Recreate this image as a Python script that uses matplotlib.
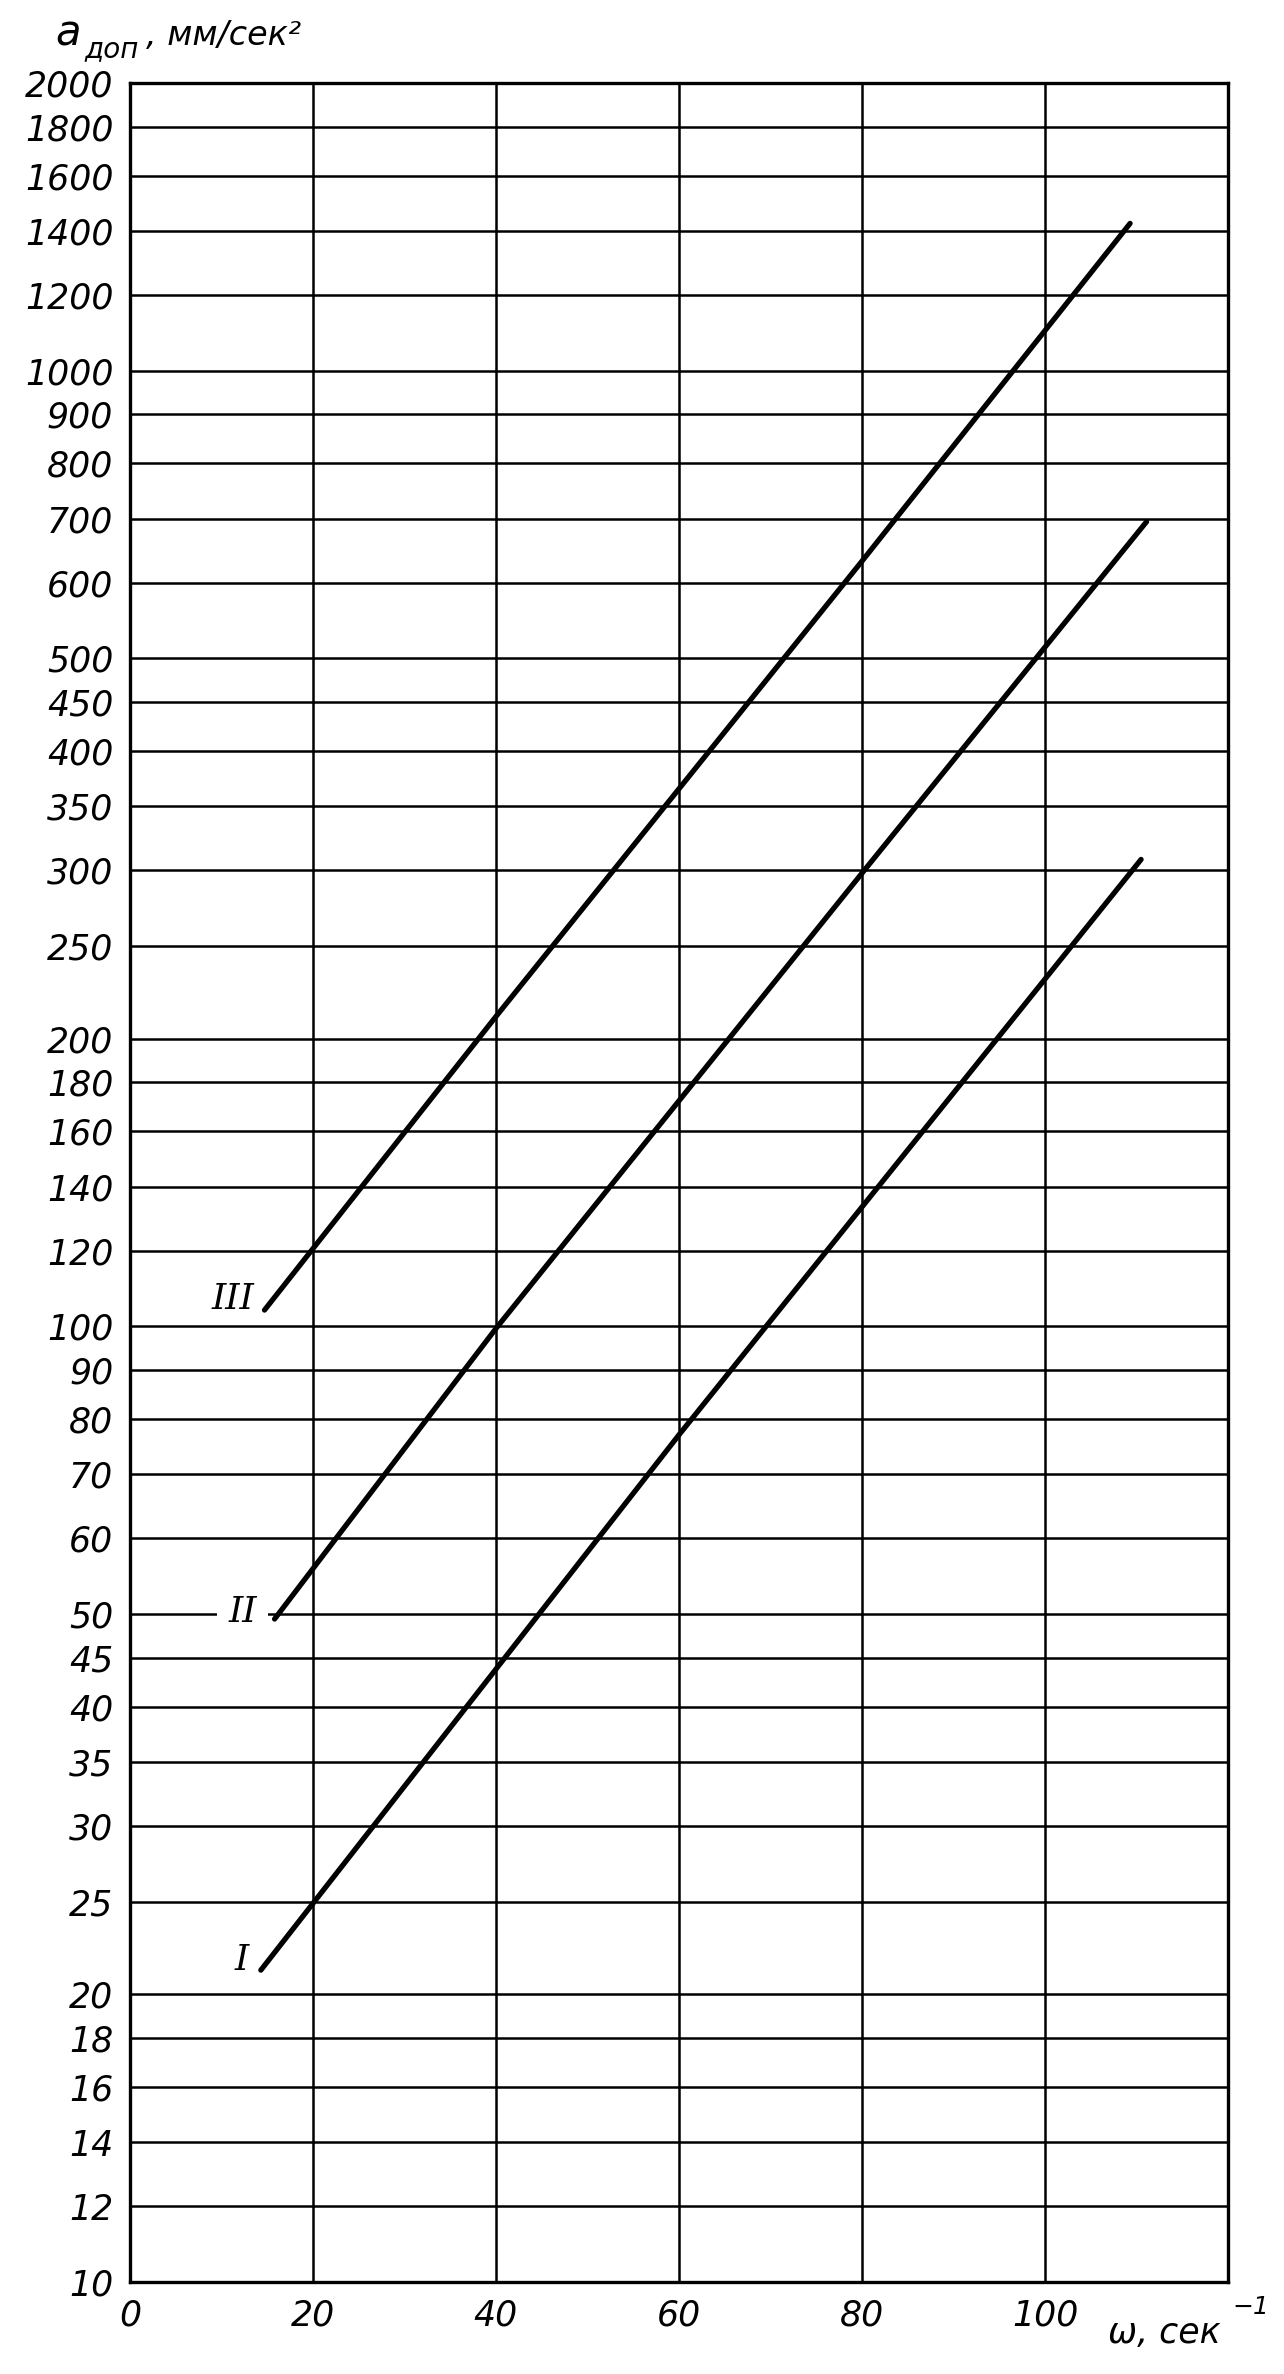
import matplotlib.pyplot as plt
from matplotlib.ticker import NullLocator

# omega, 1/сек  vs  a_доп, мм/сек^2
w_I = [14.3, 60, 110.5]
a_I = [21.2, 77, 308]

w_II = [15.8, 40, 80, 111.1]
a_II = [49.4, 99.5, 298, 695]

w_III = [14.7, 40, 80, 109.3]
a_III = [104, 211, 632, 1426]

curve_names = ["I", "II", "III"]
name_x = [12.2, 12.3, 11.3]
name_y = [21.7, 50.3, 106.7]

y_ticks = [10, 12, 14, 16, 18, 20, 25, 30, 35, 40, 45, 50, 60, 70, 80, 90,
           100, 120, 140, 160, 180, 200, 250, 300, 350, 400, 450, 500, 600,
           700, 800, 900, 1000, 1200, 1400, 1600, 1800, 2000]
x_ticks = [0, 20, 40, 60, 80, 100]

W, H = 1284, 2374
fig = plt.figure(figsize=(W / 100, H / 100), dpi=100)
ax = fig.add_axes([130 / W, 1 - 2282 / H, 1098 / W, 2199 / H])

ax.set_yscale("log")
ax.set_xlim(0, 120)
ax.set_ylim(10, 2000)
ax.set_yticks(y_ticks, labels=[str(v) for v in y_ticks])
ax.set_xticks(x_ticks, labels=[str(v) for v in x_ticks])
ax.yaxis.set_minor_locator(NullLocator())
ax.tick_params(length=0, labelsize=25)
ax.tick_params(axis="y", pad=12)
ax.tick_params(axis="x", pad=12)
for lab in ax.get_xticklabels() + ax.get_yticklabels():
    lab.set_fontstyle("italic")

ax.grid(True, color="black", lw=1.8)
for sp in ax.spines.values():
    sp.set_linewidth(2.4)
    sp.set_color("black")

for w, a in [(w_I, a_I), (w_II, a_II), (w_III, a_III)]:
    ax.plot(w, a, color="black", lw=3.8, solid_capstyle="round")

for name, x, y in zip(curve_names, name_x, name_y):
    # only "II" sits on a grid line, which is broken around it
    box = dict(fc="white", ec="none", pad=8) if name == "II" else None
    ax.text(x, y, name, ha="center", va="center", fontsize=26,
            family="DejaVu Serif", style="italic", zorder=4, bbox=box)

# axis titles
fig.text(55 / W, 1 - 45 / H, "a", fontsize=30, style="italic", va="baseline")
fig.text(84 / W, 1 - 57 / H, "доп", fontsize=20, style="italic", va="baseline")
fig.text(146 / W, 1 - 45 / H, ", мм/сек²", fontsize=24, style="italic",
         va="baseline")
fig.text(1108 / W, 1 - 2343 / H, "ω, сек", fontsize=25, style="italic",
         va="baseline")
fig.text(1232 / W, 1 - 2314 / H, "−1", fontsize=18, style="italic",
         va="baseline")

fig.savefig("out.png", dpi=100, facecolor="white")
